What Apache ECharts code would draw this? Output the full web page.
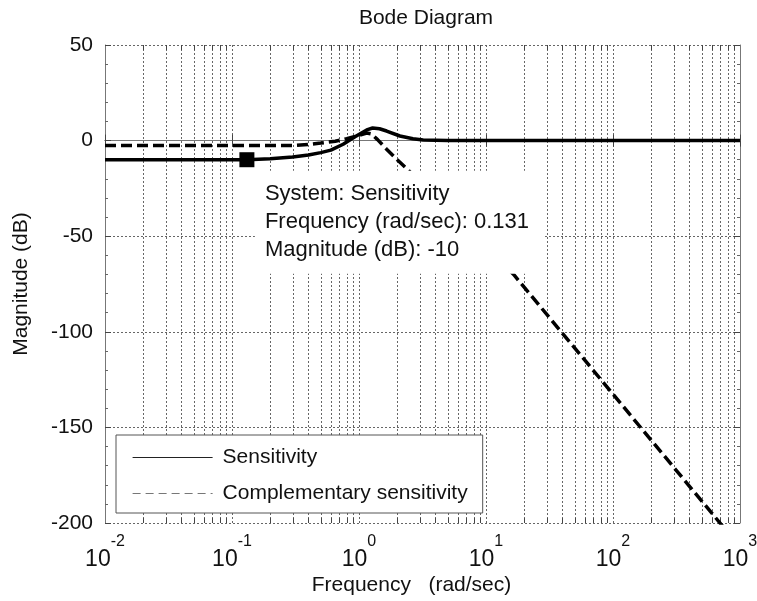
<!DOCTYPE html>
<html>
<head>
<meta charset="utf-8">
<script src="https://cdn.jsdelivr.net/npm/echarts@6/dist/echarts.min.js"></script>
<style>
html,body{margin:0;padding:0;background:#fff;}
#chart{width:757px;height:601px;}
</style>
</head>
<body>
<div id="chart"></div>
<script>
// ---- data ----
const titleText = 'Bode Diagram';
const xName = 'Frequency   (rad/sec)';
const yName = 'Magnitude (dB)';
const seriesNames = ['Sensitivity', 'Complementary sensitivity'];

// Sensitivity (solid)
const freqS = [0.01, 0.05, 0.1, 0.131, 0.2, 0.3, 0.4, 0.5, 0.6, 0.75, 0.93, 1.15, 1.28, 1.45, 1.65, 2.1, 2.66, 3.2, 5, 10, 100, 1000];
const magS  = [-10, -10, -10, -10, -9.5, -8.6, -7.5, -6.3, -5.0, -1.9, 2.0, 5.6, 6.6, 6.2, 5.0, 2.4, 1.0, 0.3, 0.05, 0, 0, 0];

// Complementary sensitivity (dashed)
const freqT = [0.01, 0.1, 0.2, 0.3, 0.4, 0.5, 0.65, 0.8, 1.0, 1.15, 1.25, 1.4, 1.65, 2.0, 2.4, 4, 8, 12, 16.5, 40, 100, 200, 1000];
const magT  = [-2.5, -2.5, -2.5, -2.6, -2.0, -1.3, -0.3, 1.0, 2.8, 4.0, 3.5, 0.5, -4.5, -10, -15, -30, -50, -61, -70, -100.8, -132.6, -156.7, -212.6];

// data tip
const tipFreq = 0.131;
const tipMag = -10;

// axis ticks
const yTicks = [-200, -150, -100, -50, 0, 50];
const xTickExps = [-2, -1, 0, 1, 2, 3];
const minorFreqs = [
  0.02,0.03,0.04,0.05,0.06,0.07,0.08,0.09,
  0.2,0.3,0.4,0.5,0.6,0.7,0.8,0.9,
  2,3,4,5,6,7,8,9,
  20,30,40,50,60,70,80,90,
  200,300,400,500,600,700,800,900
];

// ---- chart ----
const FONT = '"Liberation Sans", Arial, Helvetica, sans-serif';
const BASE_SIZE = 23, SUP_SIZE = 16;
const chart = echarts.init(document.getElementById('chart'), null, {renderer: 'canvas'});
const yMin = yTicks[0], yMax = yTicks[yTicks.length - 1];
const xMin = Math.pow(10, xTickExps[0]), xMax = Math.pow(10, xTickExps[xTickExps.length - 1]);

const GRID_COLOR = '#666';
const FRAME_COLOR = '#777';

// measure text widths to build "10^e" labels centred as a whole
const mctx = document.createElement('canvas').getContext('2d');
function textW(t, size) { mctx.font = size + 'px ' + FONT; return mctx.measureText(t).width; }
const w10 = textW('10', BASE_SIZE);
const rich = {
  b: {fontFamily: FONT, fontSize: BASE_SIZE, color: '#111', lineHeight: 22},
  s: {fontFamily: FONT, fontSize: SUP_SIZE, color: '#111', lineHeight: 14},
  g10: {width: w10, lineHeight: 14, fontSize: 1}
};
xTickExps.forEach(function (e, i) {
  rich['gs' + i] = {width: textW(String(e), SUP_SIZE), lineHeight: 22, fontSize: 1};
});

const option = {
  backgroundColor: '#fff',
  animation: false,
  title: {
    text: titleText,
    left: 421, top: 3, textAlign: 'center',
    textStyle: {fontFamily: FONT, fontSize: 21, fontWeight: 'normal', color: '#111'}
  },
  grid: {left: 105, right: 17, top: 45, bottom: 78, containLabel: false, outerBoundsMode: 'none'},
  legend: {
    data: [
      {name: seriesNames[0], lineStyle: {width: 1.2, color: '#222'}},
      {name: seriesNames[1], lineStyle: {width: 1.2, color: '#777', type: [8, 5]}}
    ],
    orient: 'vertical',
    left: 116, top: 435,
    itemWidth: 80, itemHeight: 20, itemGap: 15,
    padding: [12, 15, 9, 16],
    backgroundColor: '#fff',
    borderColor: '#555', borderWidth: 1,
    itemStyle: {opacity: 0},
    selectedMode: false,
    textStyle: {fontFamily: FONT, fontSize: 21, color: '#111', lineHeight: 20, padding: [0, 0, 0, 5]}
  },
  xAxis: [{
    type: 'log', logBase: 10, min: xMin, max: xMax, interval: 1,
    name: xName, nameLocation: 'middle', nameGap: 52, nameMoveOverlap: false,
    nameTextStyle: {fontFamily: FONT, fontSize: 21, color: '#111', padding: [0, 22, 0, 0]},
    axisLine: {show: true, lineStyle: {color: FRAME_COLOR, width: 1}},
    axisTick: {show: true, inside: true, length: 6, lineStyle: {color: '#444'}},
    splitLine: {show: true, lineStyle: {color: GRID_COLOR, width: 1, type: [2, 2]}},
    axisLabel: {
      margin: 12,
      formatter: function (v) {
        const e = Math.round(Math.log10(v));
        const i = xTickExps.indexOf(e);
        return '{g10|}{s|' + e + '}\n{b|10}{gs' + i + '|}';
      },
      rich: rich
    }
  }, {
    type: 'log', logBase: 10, min: xMin, max: xMax, interval: 1, position: 'top',
    axisLine: {show: true, lineStyle: {color: FRAME_COLOR, width: 1}},
    axisTick: {show: true, inside: true, length: 6, lineStyle: {color: '#444'}},
    axisLabel: {show: false}, splitLine: {show: false}
  }],
  yAxis: [{
    type: 'value', min: yMin, max: yMax, interval: 50,
    name: yName, nameLocation: 'middle', nameGap: 73, nameRotate: 90,
    nameTextStyle: {fontFamily: FONT, fontSize: 21, color: '#111'},
    axisLine: {show: true, lineStyle: {color: FRAME_COLOR, width: 1}},
    axisTick: {show: true, inside: true, length: 6, lineStyle: {color: '#444'}},
    minorTick: {show: true, splitNumber: 5, length: 3, lineStyle: {color: '#666'}},
    splitLine: {show: true, lineStyle: {color: GRID_COLOR, width: 1, type: [2, 2]}},
    axisLabel: {margin: 12, fontFamily: FONT, fontSize: 21, color: '#111'}
  }, {
    type: 'value', min: yMin, max: yMax, interval: 50, position: 'right',
    axisLine: {show: true, lineStyle: {color: FRAME_COLOR, width: 1}},
    axisTick: {show: true, inside: true, length: 6, lineStyle: {color: '#444'}},
    minorTick: {show: true, splitNumber: 5, length: 3, lineStyle: {color: '#666'}},
    axisLabel: {show: false}, splitLine: {show: false}
  }],
  series: [
    {
      type: 'custom', name: 'minorGrid', silent: true, z: 1,
      xAxisIndex: 0, yAxisIndex: 0,
      data: minorFreqs.map(f => [f, 0]),
      encode: {x: 0, y: 1},
      renderItem: function (params, api) {
        const f = api.value(0);
        const top = api.coord([f, yMax]);
        const bot = api.coord([f, yMin]);
        const x = Math.round(top[0]) + 0.5;
        return {
          type: 'group',
          children: [
            {type: 'line', shape: {x1: x, y1: top[1], x2: x, y2: bot[1]},
             style: {stroke: GRID_COLOR, lineWidth: 1, lineDash: [2, 2]}},
            {type: 'line', shape: {x1: x, y1: bot[1], x2: x, y2: bot[1] - 5},
             style: {stroke: '#444', lineWidth: 1}},
            {type: 'line', shape: {x1: x, y1: top[1], x2: x, y2: top[1] + 5},
             style: {stroke: '#444', lineWidth: 1}}
          ]
        };
      }
    },
    {
      name: seriesNames[1], type: 'line', z: 3,
      data: freqT.map((f, i) => [f, magT[i]]),
      symbol: 'none', smooth: false, clip: true,
      lineStyle: {color: '#000', width: 3.5, type: [11, 5]}
    },
    {
      name: seriesNames[0], type: 'line', z: 4,
      data: freqS.map((f, i) => [f, magS[i]]),
      symbol: 'none', smooth: false, clip: true,
      lineStyle: {color: '#000', width: 3.5},
      markPoint: {
        z: 10,
        symbol: 'rect', symbolSize: 15,
        itemStyle: {color: '#000'},
        data: [{coord: [tipFreq, tipMag]}],
        label: {
          show: true,
          position: [15.5, 18.5],
          align: 'left', verticalAlign: 'top',
          formatter: 'System: ' + seriesNames[0] + '\nFrequency (rad/sec): ' + tipFreq + '\nMagnitude (dB): ' + tipMag,
          fontFamily: FONT, fontSize: 22, color: '#111', lineHeight: 28,
          backgroundColor: '#fff',
          padding: [9, 12, 10, 10],
          width: 267
        }
      }
    }
  ]
};
chart.setOption(option);
</script>
</body>
</html>
